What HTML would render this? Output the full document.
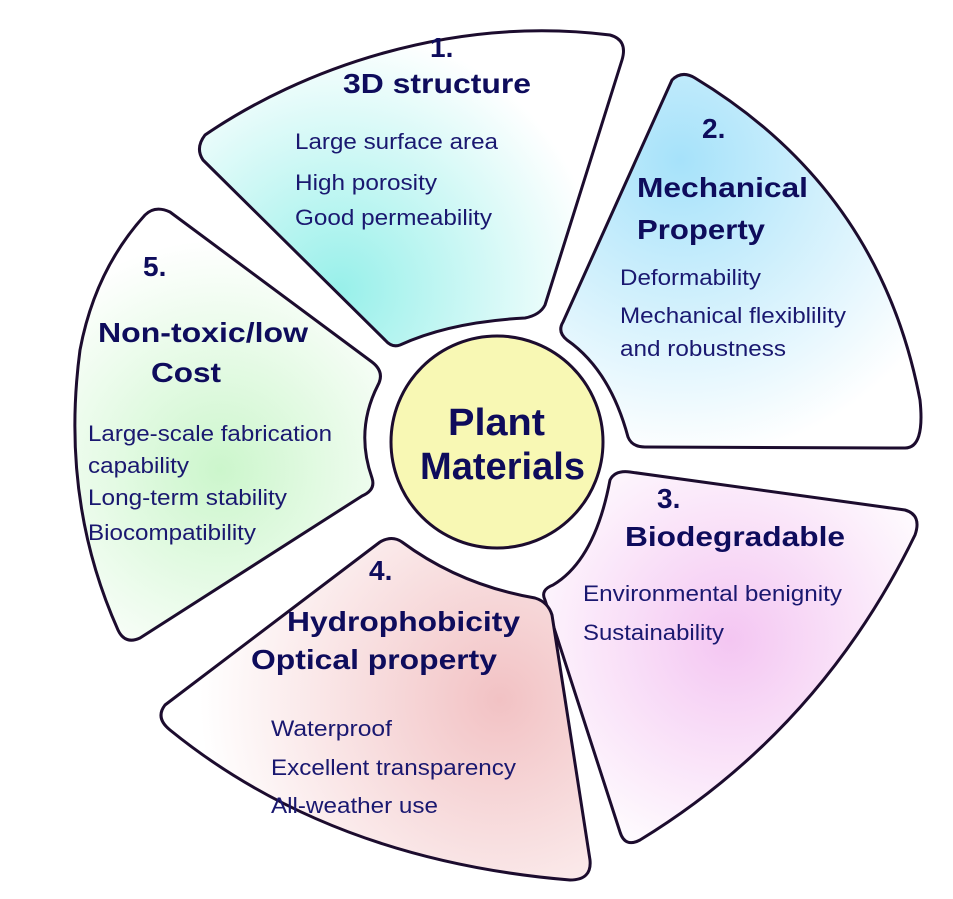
<!DOCTYPE html>
<html><head><meta charset="utf-8"><style>html,body{margin:0;padding:0;background:#fff;}svg{display:block;}</style></head>
<body>
<svg width="953" height="899" viewBox="0 0 953 899" xmlns="http://www.w3.org/2000/svg" font-family="Liberation Sans, Arial, sans-serif">
<defs>
<radialGradient id="g1" cx="340" cy="290" r="260" gradientUnits="userSpaceOnUse"><stop offset="0" stop-color="#98f0ea"/><stop offset="1" stop-color="#ffffff"/></radialGradient>
<radialGradient id="g2" cx="680" cy="160" r="300" gradientUnits="userSpaceOnUse"><stop offset="0" stop-color="#a6e2fa"/><stop offset="1" stop-color="#ffffff"/></radialGradient>
<radialGradient id="g3" cx="730" cy="640" r="240" gradientUnits="userSpaceOnUse"><stop offset="0" stop-color="#f4c6f2"/><stop offset="1" stop-color="#ffffff"/></radialGradient>
<radialGradient id="g4" cx="500" cy="700" r="300" gradientUnits="userSpaceOnUse"><stop offset="0" stop-color="#f2c2c4"/><stop offset="1" stop-color="#ffffff"/></radialGradient>
<radialGradient id="g5" cx="220" cy="470" r="230" gradientUnits="userSpaceOnUse"><stop offset="0" stop-color="#ccf6cc"/><stop offset="1" stop-color="#ffffff"/></radialGradient>
</defs>
<g stroke="#1c0c2e" stroke-width="3" stroke-linejoin="round">
<path fill="url(#g1)" d="M 205,135 C 300,70 450,15 610,35 Q 628,40 622,60 L 545,305 Q 540,315 525,318 Q 450,322 400,345 Q 392,348 385,340 L 203,160 Q 195,148 205,135 Z"/>
<path fill="url(#g2)" d="M 672,80 Q 682,70 695,78 Q 880,190 920,400 Q 925,448 905,448 L 645,447 Q 632,447 628,437 Q 610,370 567,340 Q 557,332 563,322 Z"/>
<path fill="url(#g3)" d="M 610,480 Q 615,470 630,472 L 905,510 Q 922,515 915,535 Q 820,730 640,840 Q 625,848 620,832 L 545,600 Q 540,590 553,585 Q 595,560 610,480 Z"/>
<path fill="url(#g4)" d="M 165,705 L 380,542 Q 392,535 402,542 Q 460,585 535,598 Q 548,602 552,615 L 590,860 Q 592,880 570,880 Q 330,860 170,730 Q 155,718 165,705 Z"/>
<path fill="url(#g5)" d="M 145,215 Q 155,205 170,212 L 372,362 Q 385,372 378,385 Q 355,430 372,478 Q 376,490 362,496 L 140,638 Q 125,645 118,630 Q 60,500 80,350 Q 95,270 145,215 Z"/>
<circle cx="497" cy="442" r="106" fill="#f8f8b4"/>
</g>
<g fill="#0e0c5c" font-weight="bold" font-size="28">
<text x="430" y="57">1.</text>
<text x="343" y="93" textLength="188" lengthAdjust="spacingAndGlyphs">3D structure</text>
<text x="702" y="138">2.</text>
<text x="637" y="197" textLength="171" lengthAdjust="spacingAndGlyphs">Mechanical</text>
<text x="637" y="239" textLength="128" lengthAdjust="spacingAndGlyphs">Property</text>
<text x="657" y="508">3.</text>
<text x="625" y="546" textLength="220" lengthAdjust="spacingAndGlyphs">Biodegradable</text>
<text x="369" y="580">4.</text>
<text x="287" y="631" textLength="233" lengthAdjust="spacingAndGlyphs">Hydrophobicity</text>
<text x="251" y="669" textLength="246" lengthAdjust="spacingAndGlyphs">Optical property</text>
<text x="143" y="276">5.</text>
<text x="98" y="342" textLength="210" lengthAdjust="spacingAndGlyphs">Non-toxic/low</text>
<text x="151" y="382" textLength="70" lengthAdjust="spacingAndGlyphs">Cost</text>
<text x="448" y="435" font-size="38" textLength="97" lengthAdjust="spacingAndGlyphs">Plant</text>
<text x="420" y="479" font-size="38" textLength="165" lengthAdjust="spacingAndGlyphs">Materials</text>
</g>
<g fill="#1a1870" font-size="22" lengthAdjust="spacingAndGlyphs">
<text x="295" y="149" textLength="203" lengthAdjust="spacingAndGlyphs">Large surface area</text>
<text x="295" y="190" textLength="142" lengthAdjust="spacingAndGlyphs">High porosity</text>
<text x="295" y="225" textLength="197" lengthAdjust="spacingAndGlyphs">Good permeability</text>
<text x="620" y="285" textLength="141" lengthAdjust="spacingAndGlyphs">Deformability</text>
<text x="620" y="323" textLength="226" lengthAdjust="spacingAndGlyphs">Mechanical flexiblility</text>
<text x="620" y="356" textLength="166" lengthAdjust="spacingAndGlyphs">and robustness</text>
<text x="583" y="601" textLength="259" lengthAdjust="spacingAndGlyphs">Environmental benignity</text>
<text x="583" y="640" textLength="141" lengthAdjust="spacingAndGlyphs">Sustainability</text>
<text x="271" y="736" textLength="121" lengthAdjust="spacingAndGlyphs">Waterproof</text>
<text x="271" y="775" textLength="245" lengthAdjust="spacingAndGlyphs">Excellent transparency</text>
<text x="271" y="813" textLength="167" lengthAdjust="spacingAndGlyphs">All-weather use</text>
<text x="88" y="441" textLength="244" lengthAdjust="spacingAndGlyphs">Large-scale fabrication</text>
<text x="88" y="473" textLength="101" lengthAdjust="spacingAndGlyphs">capability</text>
<text x="88" y="505" textLength="199" lengthAdjust="spacingAndGlyphs">Long-term stability</text>
<text x="88" y="540" textLength="168" lengthAdjust="spacingAndGlyphs">Biocompatibility</text>
</g>
</svg>
</body></html>
